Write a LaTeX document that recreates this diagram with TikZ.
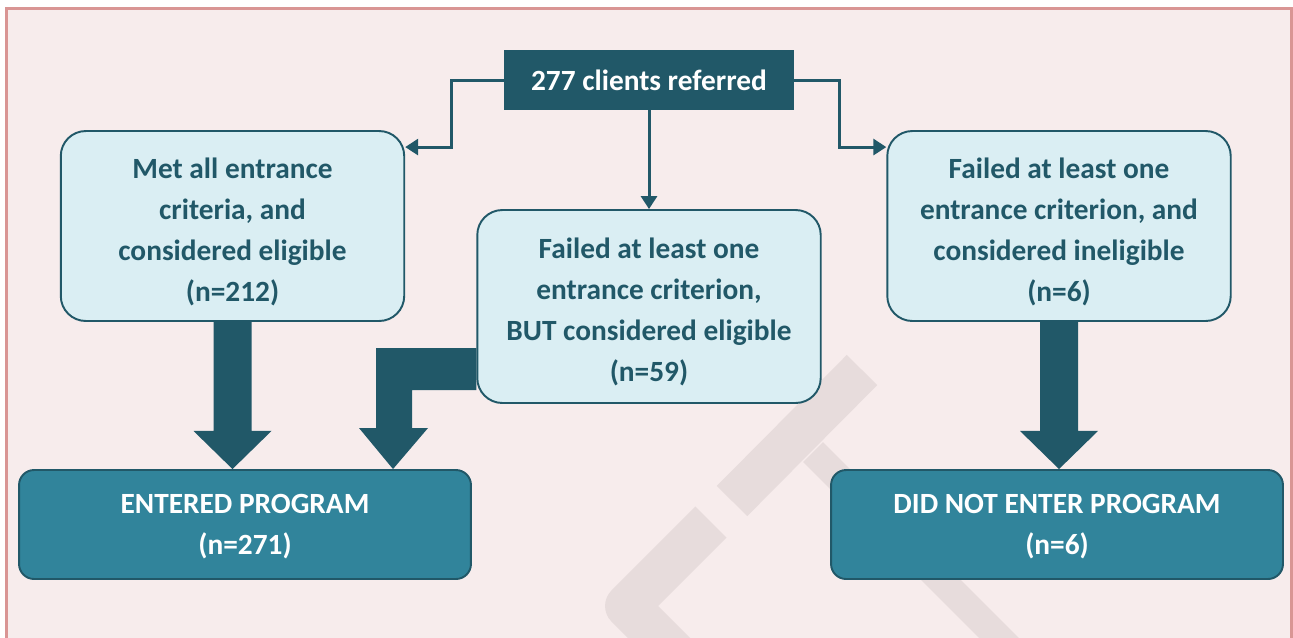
\documentclass[tikz,border=0pt]{standalone}
\usepackage{fontspec}
\setmainfont{Carlito}
\usetikzlibrary{calc,arrows.meta}
\definecolor{darkteal}{HTML}{215868}
\definecolor{midteal}{HTML}{31849B}
\definecolor{paleblue}{HTML}{DAEEF3}
\definecolor{bgpink}{HTML}{F7ECEC}
\definecolor{rimpink}{HTML}{D99594}
\definecolor{markgray}{HTML}{E7DCDC}
\newcommand{\boxfont}{\bfseries\fontsize{16.7}{23.3}\selectfont}
\newcommand{\toppad}[1]{\rule{0pt}{#1}}
\begin{document}
\begin{tikzpicture}[x=0.02cm, y=-0.02cm,
  headbox/.style={fill=darkteal, text=white, font=\boxfont, minimum width=5.8cm, minimum height=1.2cm, inner sep=0pt},
  stagebox/.style={draw=darkteal, line width=1.1pt, fill=paleblue, rounded corners=0.5cm, text=darkteal, align=center, font=\boxfont, minimum width=6.87cm, minimum height=3.8cm, inner sep=0pt},
  outbox/.style={draw=darkteal, line width=1.1pt, fill=midteal, rounded corners=0.3cm, text=white, align=center, font=\boxfont, minimum width=9.04cm, minimum height=2.18cm, inner sep=0pt},
  conn/.style={draw=darkteal, line width=1.7pt, -{Triangle[length=0.26cm, width=0.32cm]}},
  blockarrow/.style={fill=darkteal},
  logobar/.style={draw=markgray, line cap=butt}]
\useasboundingbox (0,0) rectangle (1293,637);
% frame
\draw[draw=rimpink, line width=1.7pt, fill=bgpink] (6.5,8.5) rectangle (1291.5,660);
% watermark
\begin{scope}
\clip (8,10) rectangle (1290,637);
\draw[logobar, line width=24.4pt] (862,370) -- (732,501);
\draw[logobar, line width=16pt] (813,452) -- (1060,699);
\draw[logobar, line width=25pt, line join=round] (711,522) -- (627,606) -- (700,679);
\end{scope}
% boxes
\node[headbox] (ref) at (649,80) {277 clients referred};
\node[stagebox] (met) at (232.5,226) {\toppad{18pt}Met all entrance\\criteria, and\\considered eligible\\(n=212)};
\node[stagebox, minimum height=3.86cm] (elig) at (649,306.5) {\toppad{18pt}Failed at least one\\entrance criterion,\\BUT considered eligible\\(n=59)};
\node[stagebox] (inelig) at (1059,226) {\toppad{18pt}Failed at least one\\entrance criterion, and\\considered ineligible\\(n=6)};
\node[outbox] (entered) at (245,524.5) {\toppad{13pt}ENTERED PROGRAM\\(n=271)};
\node[outbox] (notent) at (1057,524.5) {\toppad{13pt}DID NOT ENTER PROGRAM\\(n=6)};
% connectors
\draw[conn] (ref.west) -- ++(-52,0) |- ($(met.north east)+(0,17)$);
\draw[conn] (ref.east) -- ++(45,0) |- ($(inelig.north west)+(0,17)$);
\draw[conn] (ref.south) -- (elig.north);
% block arrows
\fill[blockarrow] ($(met.south)+(-19,-1)$) -- ($(met.south)+(-19,109)$) -- ++(-20,0)
  -- (entered.north -| met.south) -- ($(met.south)+(39,109)$) -- ++(-20,0)
  -- ($(met.south)+(19,-1)$) -- cycle;
\fill[blockarrow] ($(inelig.south)+(-19,-1)$) -- ($(inelig.south)+(-19,109)$) -- ++(-20,0)
  -- (notent.north -| inelig.south) -- ($(inelig.south)+(39,109)$) -- ++(-20,0)
  -- ($(inelig.south)+(19,-1)$) -- cycle;
\fill[blockarrow] ($(elig.west)+(0,41.5)$) -- (376,348) -- (376,428) -- (359,428)
  -- (entered.north -| 393,0) -- (428,428) -- (412,428) -- (412,390)
  -- ($(elig.west)+(0,83.5)$) -- cycle;
\end{tikzpicture}
\end{document}
